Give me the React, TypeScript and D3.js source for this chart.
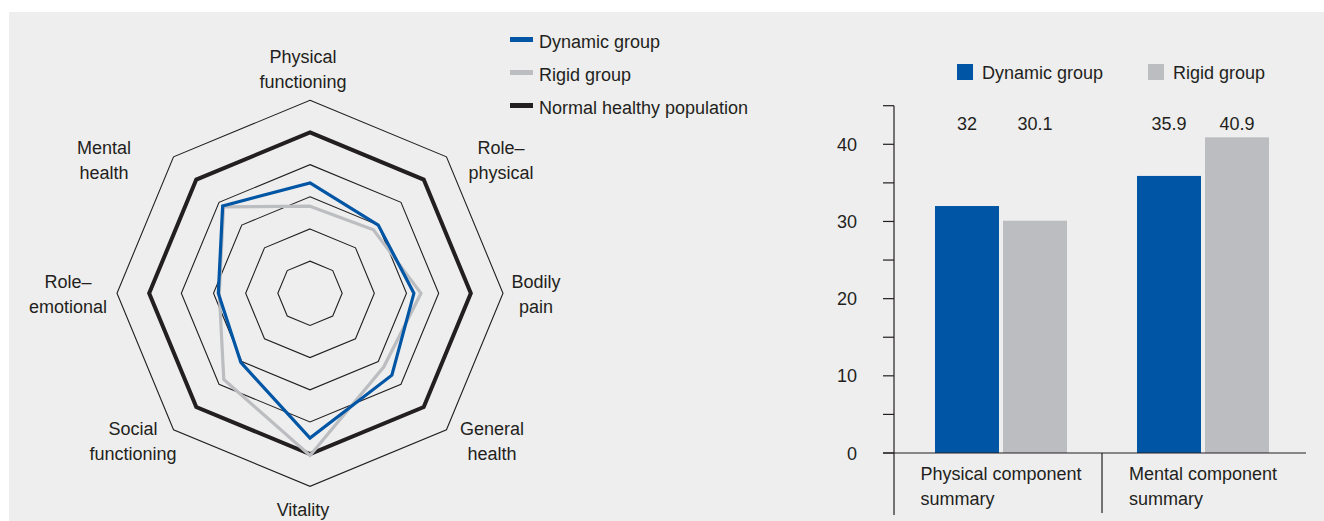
import React, { useEffect, useRef } from 'react';
import * as d3 from 'd3';

// radar axes, clockwise from the top
const radarAxes = [
    ['Physical', 'functioning'],
    ['Role–', 'physical'],
    ['Bodily', 'pain'],
    ['General', 'health'],
    ['Vitality'],
    ['Social', 'functioning'],
    ['Role–', 'emotional'],
    ['Mental', 'health'],
];
const dynamicScores = [34.3, 30.0, 32.3, 36.0, 45.0, 30.4, 28.5, 38.4];
const rigidScores = [27.1, 27.9, 34.5, 32.4, 50.4, 37.9, 28.2, 38.0];
const normalScores = [50, 50, 50, 50, 50, 50, 50, 50];
const ringValues = [10, 20, 30, 40, 60];

const summaryCategories = [['Physical component', 'summary'], ['Mental component', 'summary']];
const summarySeries = ['Dynamic group', 'Rigid group'];
const dynamicSummary = [32, 35.9];
const rigidSummary = [30.1, 40.9];
const summaryTicks = [0, 10, 20, 30, 40];

const BLUE = '#0055a4';
const GRAY = '#bcbdc0';
const BLACK = '#231f20';
const FONT = '"Liberation Sans", Arial, sans-serif';
const FS = 18;

const App: React.FC = () => {
    const ref = useRef<SVGSVGElement>(null);

    useEffect(() => {
        drawChart();
        // eslint-disable-next-line
    }, []);

    const drawChart = () => {
        const svg = d3.select(ref.current);
        svg.selectAll('*').remove();

        svg.append('rect')
            .attr('x', 9).attr('y', 12)
            .attr('width', 1315).attr('height', 509)
            .attr('fill', '#eeeeee');

        // ---------- radar ----------
        const cx = 310, cy = 293.3;
        const r = d3.scaleLinear().domain([0, 60]).range([0, 193]);
        const angle = (i: number) => (i * 2 * Math.PI) / radarAxes.length;

        const radar = svg.append('g').attr('transform', `translate(${cx},${cy})`);
        const radial = d3.lineRadial<number>()
            .angle((d, i) => angle(i))
            .radius((d) => r(d))
            .curve(d3.curveLinearClosed);

        ringValues.forEach((v) => {
            radar.append('path')
                .attr('d', radial(radarAxes.map(() => v)))
                .attr('fill', 'none')
                .attr('stroke', BLACK)
                .attr('stroke-width', 1.1);
        });

        const series = [
            { values: normalScores, color: BLACK, width: 4 },
            { values: rigidScores, color: GRAY, width: 3.2 },
            { values: dynamicScores, color: BLUE, width: 3.2 },
        ];
        series.forEach((s) => {
            radar.append('path')
                .attr('d', radial(s.values))
                .attr('fill', 'none')
                .attr('stroke', s.color)
                .attr('stroke-width', s.width)
                .attr('stroke-linejoin', 'miter');
        });

        // label anchors (offset from centre), hand placed like the original
        const labelOffsets = [
            [-7, -230], [191, -139], [226, -5], [182, 142],
            [-7, 223], [-177, 142], [-242, -5], [-206, -139],
        ];
        radarAxes.forEach((lines, i) => {
            const t = radar.append('text')
                .attr('x', labelOffsets[i][0])
                .attr('y', labelOffsets[i][1])
                .attr('text-anchor', 'middle')
                .attr('font-family', FONT)
                .attr('font-size', FS)
                .attr('fill', BLACK);
            lines.forEach((line, j) => {
                t.append('tspan')
                    .attr('x', labelOffsets[i][0])
                    .attr('dy', j === 0 ? 0 : 25)
                    .text(line);
            });
        });

        // radar legend
        const radarLegend = [
            { name: 'Dynamic group', color: BLUE },
            { name: 'Rigid group', color: GRAY },
            { name: 'Normal healthy population', color: BLACK },
        ];
        const lg = svg.append('g').attr('transform', 'translate(510, 39.5)')
            .selectAll('g')
            .data(radarLegend)
            .enter()
            .append('g')
            .attr('transform', (d, i) => `translate(0, ${i * 33})`);
        lg.append('rect')
            .attr('x', 0).attr('y', -2.5)
            .attr('width', 23).attr('height', 5)
            .attr('fill', (d) => d.color);
        lg.append('text')
            .attr('x', 29).attr('y', 8)
            .attr('font-family', FONT).attr('font-size', FS)
            .attr('fill', BLACK)
            .text((d) => d.name);

        // ---------- bars ----------
        const y = d3.scaleLinear().domain([0, 45]).range([453, 105.7]);
        const x0 = d3.scaleBand<number>().domain([0, 1]).range([900, 1304]);
        const x1 = d3.scaleBand<string>().domain(summarySeries).range([0, 132]).paddingInner(4 / 68);
        const axisX = 894;

        const bars = svg.append('g');
        const barData = [dynamicSummary, rigidSummary];
        summarySeries.forEach((s, si) => {
            barData[si].forEach((v, ci) => {
                const bx = x0(ci)! + x0.bandwidth() / 2 - 66 + x1(s)!;
                bars.append('rect')
                    .attr('x', bx)
                    .attr('y', y(v))
                    .attr('width', x1.bandwidth())
                    .attr('height', y(0) - y(v))
                    .attr('fill', si === 0 ? BLUE : GRAY);
                bars.append('text')
                    .attr('x', bx + x1.bandwidth() / 2)
                    .attr('y', 130)
                    .attr('text-anchor', 'middle')
                    .attr('font-family', FONT).attr('font-size', FS)
                    .attr('fill', BLACK)
                    .text(String(v));
            });
        });

        // y axis
        const ticks = d3.range(0, 50, 5);
        bars.append('line')
            .attr('x1', axisX).attr('x2', axisX)
            .attr('y1', y(45)).attr('y2', 515)
            .attr('stroke', BLACK).attr('stroke-width', 1.2);
        bars.selectAll('.tick')
            .data(ticks)
            .enter()
            .append('line')
            .attr('x1', 883).attr('x2', axisX)
            .attr('y1', (d) => y(d)).attr('y2', (d) => y(d))
            .attr('stroke', BLACK).attr('stroke-width', 1.2);
        bars.selectAll('.tlabel')
            .data(summaryTicks)
            .enter()
            .append('text')
            .attr('x', 857)
            .attr('y', (d) => y(d) + 6.5)
            .attr('text-anchor', 'end')
            .attr('font-family', FONT).attr('font-size', FS)
            .attr('fill', BLACK)
            .text((d) => d);

        // baseline and category divider
        bars.append('line')
            .attr('x1', 883).attr('x2', 1306)
            .attr('y1', y(0)).attr('y2', y(0))
            .attr('stroke', BLACK).attr('stroke-width', 1.2);
        bars.append('line')
            .attr('x1', x0(1)!).attr('x2', x0(1)!)
            .attr('y1', y(0)).attr('y2', 513)
            .attr('stroke', BLACK).attr('stroke-width', 1.2);

        summaryCategories.forEach((lines, ci) => {
            const t = bars.append('text')
                .attr('x', 0).attr('y', 480)
                .attr('font-family', FONT).attr('font-size', FS)
                .attr('fill', BLACK);
            lines.forEach((line, j) => {
                t.append('tspan').attr('x', 0).attr('dy', j === 0 ? 0 : 25).text(line);
            });
            const w = (t.node() as SVGTextElement).getBBox().width;
            const lx = x0(ci)! + x0.bandwidth() / 2 - w / 2;
            t.attr('x', lx);
            t.selectAll('tspan').attr('x', lx);
        });

        // bar legend
        const blg = svg.append('g')
            .selectAll('g')
            .data(summarySeries)
            .enter()
            .append('g')
            .attr('transform', (d, i) => `translate(${957 + i * 191}, 64)`);
        blg.append('rect')
            .attr('width', 16).attr('height', 16)
            .attr('fill', (d, i) => (i === 0 ? BLUE : GRAY));
        blg.append('text')
            .attr('x', 25).attr('y', 15)
            .attr('font-family', FONT).attr('font-size', FS)
            .attr('fill', BLACK)
            .text((d) => d);
    };

    return (
        <svg ref={ref} width={1324} height={521}
            style={{ position: 'absolute', left: 0, top: 0, background: '#ffffff' }}>
        </svg>
    );
};

export default App;
